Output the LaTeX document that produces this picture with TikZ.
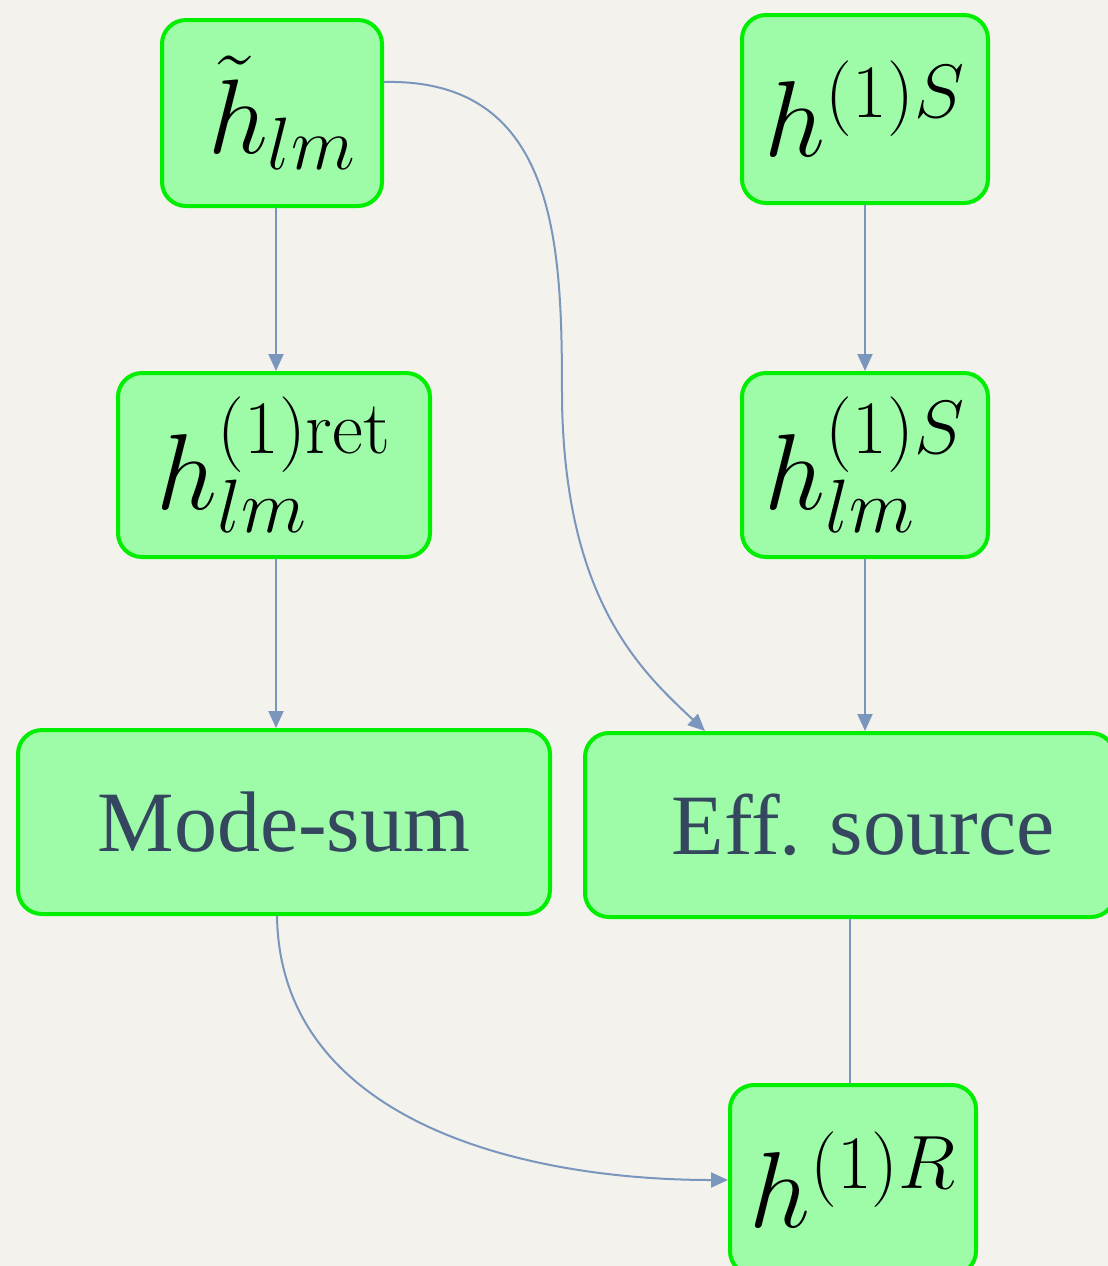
\documentclass[tikz,border=0pt]{standalone}
\usepackage{fix-cm}
\usepackage{amsmath}
\usepackage[no-math]{fontspec}
\setmainfont{Liberation Serif}
\usepackage{tikz}
\usetikzlibrary{positioning, calc}
\usetikzlibrary{arrows.meta}

\definecolor{paper}{HTML}{F4F2ED}
\definecolor{boxfill}{HTML}{9EFBA8}
\definecolor{boxline}{HTML}{00EE00}
\definecolor{linkblue}{HTML}{7A96BD}
\definecolor{slate}{HTML}{34475F}

\begin{document}
\begin{tikzpicture}[x=0.5pt, y=-0.5pt, line cap=round, line join=round,
  stage/.style={draw=boxline, fill=boxfill, line width=2pt, rounded corners=12pt,
    inner sep=0pt, font=\fontsize{54}{56}\selectfont},
  wordbox/.style={stage, text=slate, font=\fontsize{43}{46}\selectfont},
  link/.style={draw=linkblue, line width=1pt, -{Triangle[length=8.5pt, width=7.5pt]}},
  plain link/.style={draw=linkblue, line width=1pt}]

% --- Sfondo ---
\fill[paper] (0,0) rectangle (1108,1266);
\useasboundingbox (0,0) rectangle (1108,1266);

% --- Nodi ---
\node[stage, minimum width=110pt, minimum height=93pt] (htilde) at (272,113)
  {\fontsize{53}{55}\selectfont\hspace*{10pt}$\tilde{h}_{lm}$};
\node[stage, minimum width=123pt, minimum height=94pt] (hS) at (865,109)
  {$h^{(1)S}$};
\node[stage, minimum width=156pt, minimum height=92pt] (hret) at (274,465)
  {$h^{(1)\mathrm{ret}}_{lm}$};
\node[stage, minimum width=123pt, minimum height=92pt] (hlmS) at (865,465)
  {$h^{(1)S}_{lm}$};
\node[wordbox, minimum width=266pt, minimum height=92pt] (modesum) at (284,822)
  {Mode-sum};
\node[wordbox, minimum width=265pt, minimum height=92pt] (effsource) at (850,825)
  {\hspace*{13pt}Eff. source};
\node[stage, minimum width=123pt, minimum height=95pt] (hR) at (853,1180)
  {$h^{(1)R}$};

% --- Collegamenti ---
\draw[link] ([xshift=2pt]htilde.south) -- ([xshift=2pt]htilde.south |- hret.north);
\draw[link] (hS.south) -- (hS.south |- hlmS.north);
\draw[link] ([xshift=1pt]hret.south) -- ([xshift=1pt]hret.south |- modesum.north);
\draw[link] (hlmS.south) -- (hlmS.south |- effsource.north);
\draw[link] ([yshift=15.5pt]htilde.east)
  .. controls (560,78) and (562,250) .. (562,400)
  .. controls (565,600) and (640,670) .. ([xshift=-72.5pt]effsource.north);
\draw[link] ([xshift=-3.5pt]modesum.south)
  .. controls (280,1120) and (520,1180) .. (hR.west);
\draw[plain link] (effsource.south) -- (effsource.south |- hR.north);
\end{tikzpicture}
\end{document}
